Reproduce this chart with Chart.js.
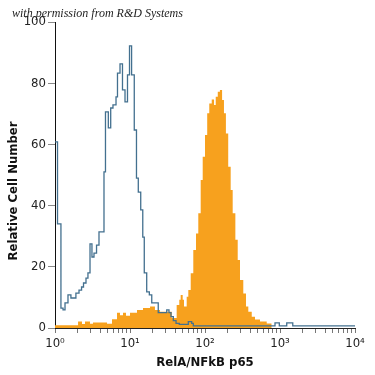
<!DOCTYPE html>
<html>
<head>
<meta charset="utf-8">
<script src="https://cdn.jsdelivr.net/npm/chart.js@4.4.0/dist/chart.umd.min.js"></script>
<style>
  body { margin: 0; background: #fff; }
  #wrap { position: relative; width: 375px; height: 375px; }
  #credit {
    position: absolute; left: 12px; top: 6px;
    font: italic 12px 'Liberation Serif', serif; color: #222; white-space: nowrap;
  }
</style>
</head>
<body>
<div id="wrap">
  <canvas id="chart" width="375" height="375"></canvas>
  <div id="credit">with permission from R&amp;D Systems</div>
</div>
<script>
// open histogram (control), left bin edges and counts
const blueEdges = [1, 1.08, 1.2, 1.28, 1.36, 1.49, 1.63, 1.9, 2.09, 2.26, 2.4, 2.59, 2.75, 2.93, 3.11, 3.31, 3.58, 3.86,
  4.5, 4.71, 5.14, 5.53, 5.93, 6.51, 6.81, 7.36, 7.94, 8.58, 9.26, 9.85, 10.5, 11.4, 12.2, 12.9, 13.9, 14.8, 15.5,
  16.7, 18.1, 19.5, 23.8, 30.9, 33.1, 35.2, 37.8, 41.1, 45.4, 59.9, 66.5, 69.8, 858, 979, 1230, 1480, 10000];
const blueCounts = [60.8, 34, 6.5, 5.9, 8.2, 10.8, 9.8, 11.4, 12.4, 13.4, 14.7, 16.3, 18, 27.5, 23.2, 24.5, 27.1, 31.4,
  51, 70.6, 65.4, 71.9, 72.9, 75.5, 83.3, 86.3, 77.8, 73.9, 82.7, 92.2, 82.7, 64.7, 49, 44.4, 38.6, 29.7, 18,
  11.8, 10.8, 8.2, 5.0, 5.9, 5.0, 3.7, 2.4, 1.5, 1.2, 2.1, 1.5, 0.7, 1.7, 0.7, 1.7, 0.7, 0.7];

// filled histogram (RelA/NFkB p65 stained)
const orangeEdges = [1, 2.03, 2.29, 2.51, 2.93, 3.21, 4.94, 5.75, 6.71, 7.36, 8.07, 8.85, 10, 12.4, 14.9, 18.5, 21.5,
  25.1, 36, 41.9, 45.4, 47.4, 50.4, 52.5, 57, 59.9, 64.5, 69.8, 75.9, 81.4, 87.6, 93.2, 100, 107, 114, 123, 132,
  139, 148, 158, 169, 179, 190, 204, 220, 234, 254, 273, 293, 324, 352, 378, 420, 464, 541, 665, 775];
const orangeCounts = [0.9, 2.1, 1.3, 2.1, 1.4, 1.8, 1.4, 2.9, 5.0, 4.2, 5.0, 4.0, 5.0, 5.9, 6.5, 7.0, 5.9,
  5.3, 3.3, 7.5, 9.2, 10.8, 9.2, 7.0, 10.2, 12.4, 17.9, 25.5, 30.9, 37.5, 48.4, 56, 63.1, 70.2, 73.4, 74.7, 72.9,
  75.6, 77.2, 77.8, 74.5, 70.2, 63.6, 52.7, 45.1, 37.5, 28.8, 22.2, 15.7, 11.3, 7.0, 5.3, 3.7, 2.8, 2.1, 1.5, 0];

const xTicks = [1, 2, 3, 4, 5, 6, 7, 8, 9, 10, 20, 30, 40, 50, 60, 70, 80, 90, 100, 200, 300, 400, 500, 600, 700,
  800, 900, 1000, 2000, 3000, 4000, 5000, 6000, 7000, 8000, 9000, 10000];
const xMajor = [1, 10, 100, 1000, 10000];
const xTickText = ['10⁰', '10¹', '10²', '10³', '10⁴'];
const yTicks = [0, 20, 40, 60, 80, 100];

const narrow = "'Liberation Sans Narrow', 'DejaVu Sans Condensed', sans-serif";

function toPoints(edges, counts) {
  return edges.map((x, i) => ({ x: x, y: counts[i] }));
}

// y title sits a bit below the middle of the axis in the original
const yTitle = {
  id: 'yTitle',
  afterDraw(chart) {
    const ctx = chart.ctx;
    ctx.save();
    ctx.translate(14, 191);
    ctx.rotate(-Math.PI / 2);
    ctx.font = 'bold 13px ' + narrow;
    ctx.fillStyle = '#111';
    ctx.textAlign = 'center';
    ctx.textBaseline = 'middle';
    ctx.fillText('Relative Cell Number', 0, 0);
    ctx.restore();
  }
};

new Chart(document.getElementById('chart'), {
  type: 'line',
  data: {
    datasets: [
      {
        label: 'control',
        data: toPoints(blueEdges, blueCounts),
        stepped: true,
        borderColor: '#43708f',
        borderWidth: 1.3,
        pointRadius: 0,
        fill: false,
        order: 0
      },
      {
        label: 'RelA/NFkB p65',
        data: toPoints(orangeEdges, orangeCounts),
        stepped: true,
        borderWidth: 0,
        borderColor: 'rgba(0,0,0,0)',
        backgroundColor: '#f7a11e',
        fill: 'origin',
        pointRadius: 0,
        order: 1
      }
    ]
  },
  options: {
    responsive: false,
    animation: false,
    layout: { padding: { top: 22, right: 20, left: 0, bottom: 0 } },
    plugins: { legend: { display: false }, tooltip: { enabled: false } },
    scales: {
      x: {
        type: 'logarithmic',
        min: 1,
        max: 10000,
        afterBuildTicks: s => { s.ticks = xTicks.map(v => ({ value: v })); },
        afterFit: s => { s.height = 47; },
        ticks: {
          autoSkip: false,
          maxRotation: 0,
          padding: 3,
          color: '#222',
          font: { family: narrow, size: 13 },
          callback: v => {
            const i = xMajor.indexOf(v);
            return i >= 0 ? xTickText[i] : '';
          }
        },
        grid: { drawOnChartArea: false, tickLength: 5, color: '#777' },
        border: { color: '#222', width: 1 },
        title: {
          display: true,
          text: 'RelA/NFkB p65',
          color: '#111',
          font: { family: narrow, size: 13, weight: 'bold' },
          padding: { top: 0, bottom: 5 }
        }
      },
      y: {
        min: 0,
        max: 100,
        afterBuildTicks: s => { s.ticks = yTicks.map(v => ({ value: v })); },
        afterFit: s => { s.width = 55; },
        ticks: { padding: 2, color: '#222', font: { family: narrow, size: 13 } },
        grid: { drawOnChartArea: false, tickLength: 7, color: '#888' },
        border: { color: '#111', width: 1 }
      }
    }
  },
  plugins: [yTitle]
});
</script>
</body>
</html>
